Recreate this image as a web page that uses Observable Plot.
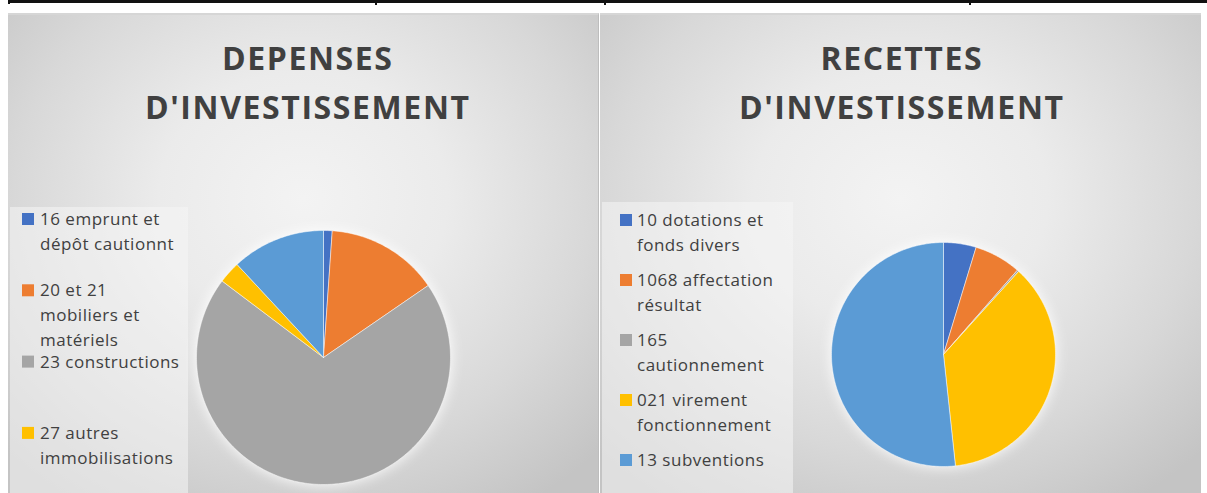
<!DOCTYPE html>
<html><head><meta charset="utf-8">
<script src="https://cdn.jsdelivr.net/npm/d3@7"></script>
<script src="https://cdn.jsdelivr.net/npm/@observablehq/plot@0.6"></script>
<style>
html,body{margin:0;padding:0;background:#fff;}
#root{position:relative;width:1207px;height:493px;overflow:hidden;font-family:"Open Sans",sans-serif;}
.abs{position:absolute;}
.panel{position:absolute;top:13px;height:485px;border-top:2px solid #d6d6d6;box-sizing:border-box;}
.legbox{position:absolute;background:rgba(245,245,245,0.55);}
.pie svg{filter:drop-shadow(0 0 7px rgba(255,255,255,0.95));}
</style></head>
<body><div id="root"></div>
<script>
// ---- data ----
const depTitle = ["DEPENSES", "D'INVESTISSEMENT"];
const depCategories = ["16 emprunt et dépôt cautionnt", "20 et 21 mobiliers et matériels", "23 constructions", "27 autres immobilisations", ""];
const depLegendLines = [["16 emprunt et", "dépôt cautionnt"], ["20 et 21", "mobiliers et", "matériels"], ["23 constructions"], ["27 autres", "immobilisations"]];
const depValues = [1.1, 14.3, 69.8, 2.8, 11.9];

const recTitle = ["RECETTES", "D'INVESTISSEMENT"];
const recCategories = ["10 dotations et fonds divers", "1068 affectation résultat", "165 cautionnement", "021 virement fonctionnement", "13 subventions"];
const recLegendLines = [["10 dotations et", "fonds divers"], ["1068 affectation", "résultat"], ["165", "cautionnement"], ["021 virement", "fonctionnement"], ["13 subventions"]];
const recValues = [4.7, 6.75, 0.25, 36.6, 51.7];

const palette = ["#4472C4", "#ED7D31", "#A5A5A5", "#FFC000", "#5B9BD5"];

// ---- layout ----
const root = document.getElementById("root");
function el(tag, cls, style, parent) {
  const e = document.createElement(tag);
  if (cls) e.className = cls;
  Object.assign(e.style, style || {});
  (parent || root).appendChild(e);
  return e;
}
// table border remnant at top
el("div", "abs", {left: "8px", top: "0px", width: "1199px", height: "3px", background: "#111"});
el("div", "abs", {left: "8px", top: "0px", width: "2px", height: "4px", background: "#111"});
[375, 604, 969].forEach(x => el("div", "abs", {left: x + "px", top: "0px", width: "2px", height: "5px", background: "#111"}));

const bg = "radial-gradient(ellipse 70% 75% at 50% 38%, #f3f3f3 0%, #ebebeb 35%, #d8d8d8 70%, #c4c4c4 100%)";
el("div", "panel", {left: "8px", width: "591px", background: bg, borderRight: "1px solid #bdbdbd"});
el("div", "panel", {left: "600px", width: "601px", background: bg});

el("div", "legbox", {left: "10px", top: "207px", width: "178px", height: "290px"});
el("div", "legbox", {left: "602px", top: "202px", width: "191px", height: "295px"});

function piePlot(values, r, pad) {
  const arcs = d3.pie().sort(null).value(d => d)(values);
  const pts = [];
  arcs.forEach((a, i) => {
    const n = Math.max(2, Math.ceil((a.endAngle - a.startAngle) / (Math.PI / 180)));
    pts.push({x: 0, y: 0, k: i});
    for (let j = 0; j <= n; j++) {
      const t = a.startAngle + (a.endAngle - a.startAngle) * j / n;
      pts.push({x: Math.sin(t), y: Math.cos(t), k: i});
    }
    pts.push({x: 0, y: 0, k: i});
  });
  const size = 2 * (r + pad);
  const ext = (r + pad) / r;
  return Plot.plot({
    width: size, height: size, margin: 0,
    style: {background: "transparent", overflow: "visible"},
    x: {domain: [-ext, ext], axis: null},
    y: {domain: [-ext, ext], axis: null},
    color: {type: "ordinal", domain: d3.range(values.length), range: palette},
    marks: [
      Plot.line(pts, {x: "x", y: "y", z: "k", fill: "k", stroke: "#ffffff", strokeWidth: 0.8, strokeOpacity: 0.6, curve: "linear"})
    ]
  });
}

function addPie(values, cx, cy, r) {
  const pad = 12;
  const box = el("div", "abs pie", {left: (cx - r - pad) + "px", top: (cy - r - pad) + "px"});
  box.appendChild(piePlot(values, r, pad));
}
addPie(depValues, 323, 357, 127);
addPie(recValues, 943, 354, 112);

// text overlay
const svg = d3.select(root).append("svg")
  .attr("width", 1207).attr("height", 493)
  .style("position", "absolute").style("left", "0px").style("top", "0px")
  .style("font-family", "'Open Sans', sans-serif");

function title(lines, cx) {
  svg.selectAll(null).data(lines).join("text")
    .attr("x", cx + 0.8).attr("y", (d, i) => 70 + i * 49)
    .attr("text-anchor", "middle")
    .attr("font-size", 32).attr("font-weight", 700)
    .attr("letter-spacing", "1.6px")
    .attr("fill", "#404040")
    .text(d => d);
}
title(depTitle, 307);
title(recTitle, 901);

function legend(linesArr, x0, firstY, step, sqX) {
  linesArr.forEach((lines, i) => {
    const y = firstY + i * step;
    svg.append("rect").attr("x", sqX).attr("y", y - 6).attr("width", 12).attr("height", 12).attr("fill", palette[i]);
    lines.forEach((t, j) => {
      svg.append("text").attr("x", x0).attr("y", y + j * 25).attr("dy", "0.36em")
        .attr("font-size", 17).attr("letter-spacing", "0.5px").attr("fill", "#404040").text(t);
    });
  });
}
legend(depLegendLines, 40, 219, 71.3, 22);
legend(recLegendLines, 637, 220, 60, 620);
</script>
</body></html>
